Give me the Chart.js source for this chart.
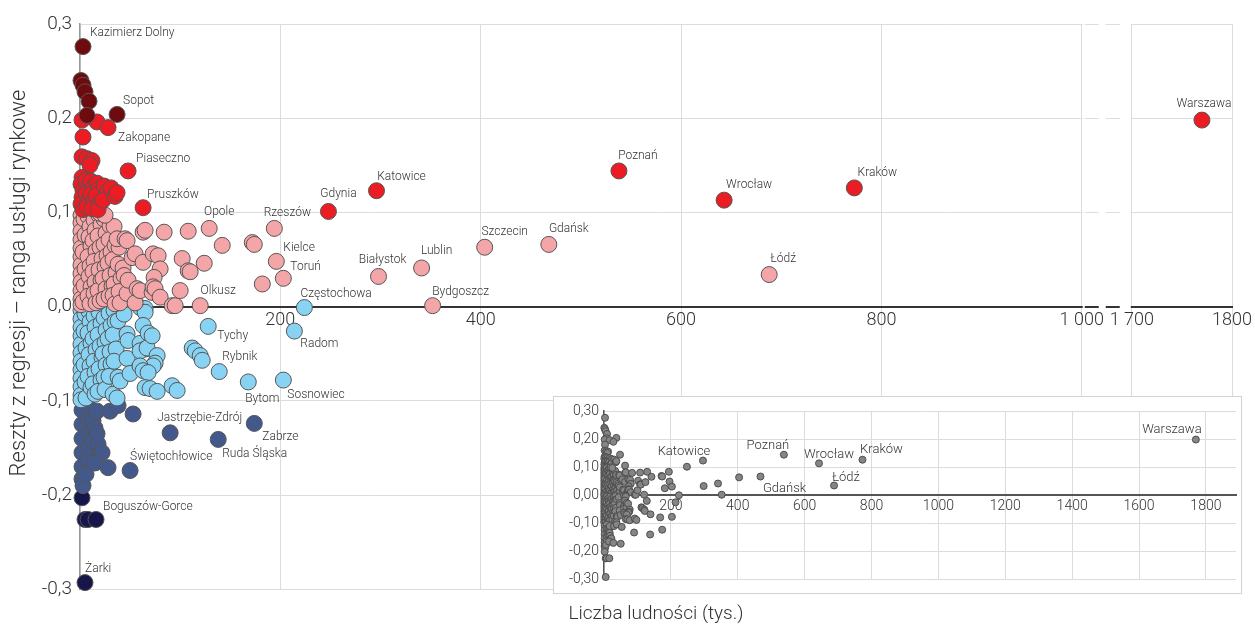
<!DOCTYPE html>
<html>
<head>
<meta charset="utf-8">
<script src="https://cdn.jsdelivr.net/npm/chart.js@4.4.0/dist/chart.umd.min.js"></script>
<style>
  html, body { margin: 0; padding: 0; background: #fff; }
  #wrap { position: relative; width: 1255px; height: 627px; }
  #main { position: absolute; left: 0; top: 0; }
  #insetBox { position: absolute; left: 553px; top: 396px; width: 687px; height: 196px;
              border: 1px solid #d2d2d2; background: #fff; }
  #inset { display: block; }
</style>
</head>
<body>
<div id="wrap">
  <canvas id="main" width="1255" height="627"></canvas>
  <div id="insetBox"><canvas id="inset" width="687" height="196"></canvas></div>
</div>
<script>
// ----------------------------------------------------
// DATA (x = population in thousands, y = regression residual)
// ----------------------------------------------------
const darkRedPts = [[3,0.276],[1,0.240],[3,0.235],[5,0.228],[9,0.218],[7,0.203],[37,0.204]];

const redPts = [
  [2,0.198],[17,0.196],[28,0.190],[3,0.180],[2,0.159],[7,0.157],[12,0.155],[10,0.150],[48,0.144],
  [2,0.137],[1,0.130],[3,0.123],[2,0.116],[1,0.109],[3,0.103],
  [6,0.134],[8,0.127],[6,0.120],[9,0.113],[7,0.106],
  [11,0.133],[13,0.126],[11,0.119],[14,0.112],[12,0.104],
  [17,0.131],[19,0.125],[16,0.118],[20,0.110],[18,0.103],
  [24,0.128],[27,0.121],[23,0.113],[31,0.126],[35,0.117],[37,0.121],[63,0.105],
  [248,0.101],[296,0.123],[538,0.144],[643,0.113],[773,0.126],[1770,0.198]
];

const pinkPts = [
  [1,0.097],[1,0.089],[1,0.080],[1,0.071],[1,0.062],[1,0.053],[1,0.044],[1,0.035],[1,0.026],[1,0.017],[1,0.008],[1,0.002],
  [4,0.093],[5,0.076],[3,0.058],[5,0.040],[4,0.022],[3,0.005],
  [8,0.096],[10,0.085],[9,0.074],[11,0.064],[8,0.053],[10,0.043],[9,0.032],[11,0.021],[8,0.011],[10,0.003],
  [14,0.092],[15,0.081],[13,0.070],[16,0.059],[14,0.048],[13,0.037],[15,0.026],[14,0.014],[16,0.004],
  [19,0.097],[21,0.087],[18,0.075],[20,0.063],[22,0.051],[19,0.039],[21,0.028],[18,0.017],[20,0.006],
  [24,0.093],[26,0.078],[24,0.066],[27,0.054],[25,0.042],[23,0.030],[26,0.019],[24,0.008],
  [30,0.086],[29,0.071],[31,0.058],[28,0.046],[30,0.033],[32,0.022],[29,0.011],
  [34,0.085],[35,0.065],[33,0.050],[36,0.036],[34,0.024],[33,0.012],[35,0.003],
  [39,0.063],[38,0.045],[41,0.030],[39,0.016],[40,0.004],
  [20,0.099],[25,0.097],[37,0.072],[45,0.072],[43,0.041],[44,0.033],[47,0.070],[47,0.014],[52,0.052],
  [55,0.056],[48,0.028],[55,0.004],[57,0.019],[60,0.017],[63,0.079],[63,0.047],[65,0.081],[72,0.015],
  [73,0.056],[78,0.054],[80,0.040],[74,0.031],[73,0.021],[75,0.019],[80,0.010],[84,0.079],[92,0.001],
  [95,0.001],[100,0.017],[102,0.051],[108,0.080],[108,0.038],[110,0.037],[120,0.001],[124,0.046],
  [129,0.083],[142,0.065],[172,0.068],[174,0.066],[182,0.024],[194,0.083],[196,0.048],[203,0.030],
  [298,0.032],[341,0.041],[352,0.001],[404,0.063],[468,0.066],[688,0.034]
];

const bluePts = [
  [1,-0.004],[1,-0.013],[1,-0.022],[1,-0.031],[1,-0.040],[1,-0.049],[1,-0.058],[1,-0.067],[1,-0.076],[1,-0.085],[1,-0.094],[1,-0.099],
  [5,-0.008],[4,-0.026],[6,-0.044],[4,-0.062],[5,-0.080],[6,-0.097],
  [9,-0.005],[10,-0.016],[8,-0.028],[11,-0.039],[9,-0.051],[10,-0.063],[8,-0.074],[11,-0.086],
  [14,-0.010],[15,-0.022],[13,-0.034],[16,-0.046],[14,-0.058],[15,-0.070],[13,-0.082],[15,-0.093],
  [19,-0.006],[21,-0.018],[18,-0.030],[20,-0.042],[22,-0.054],[19,-0.066],[21,-0.078],[18,-0.090],
  [24,-0.012],[26,-0.025],[25,-0.038],[23,-0.050],[26,-0.062],[24,-0.075],[25,-0.088],
  [29,-0.007],[31,-0.020],[28,-0.034],[30,-0.048],[31,-0.061],[29,-0.074],
  [34,-0.004],[35,-0.016],[33,-0.030],[36,-0.045],[34,-0.058],[33,-0.093],
  [38,-0.015],[38,-0.075],[40,-0.079],[37,-0.097],[44,-0.008],[47,-0.029],[48,-0.036],[47,-0.055],
  [50,-0.071],[60,-0.001],[65,-0.002],[65,-0.006],[60,-0.039],[65,-0.045],[60,-0.047],[67,-0.044],
  [63,-0.020],[68,-0.028],[72,-0.031],[77,-0.052],[75,-0.060],[73,-0.063],[60,-0.063],[63,-0.068],
  [68,-0.070],[65,-0.086],[70,-0.087],[77,-0.090],[92,-0.084],[97,-0.089],[112,-0.044],[115,-0.047],
  [120,-0.052],[122,-0.057],[128,-0.021],[139,-0.069],[168,-0.080],[203,-0.078],[214,-0.026],[224,-0.001]
];

const slatePts = [
  [2,-0.110],[2,-0.125],[2,-0.140],[2,-0.155],[2,-0.170],[2,-0.183],[3,-0.190],
  [8,-0.106],[9,-0.120],[10,-0.135],[9,-0.150],[8,-0.165],[6,-0.178],
  [13,-0.121],[15,-0.129],[13,-0.143],[17,-0.111],[17,-0.135],[18,-0.146],[20,-0.156],[22,-0.155],
  [15,-0.166],[28,-0.171],[30,-0.111],[38,-0.105],[53,-0.114],[50,-0.174],[90,-0.134],[138,-0.141],[174,-0.124]
];

const navyPts = [[2,-0.203],[5,-0.226],[8,-0.226],[16,-0.226],[5,-0.293]];

// labelled towns: name, population, residual
const cities = [
  ['Kazimierz Dolny',3,0.276],['Sopot',37,0.204],['Zakopane',28,0.190],['Piaseczno',48,0.144],
  ['Pruszków',63,0.105],['Opole',129,0.083],['Rzeszów',194,0.083],['Gdynia',248,0.101],
  ['Katowice',296,0.123],['Kielce',196,0.048],['Toruń',203,0.030],['Białystok',298,0.032],
  ['Lublin',341,0.041],['Szczecin',404,0.063],['Gdańsk',468,0.066],['Poznań',538,0.144],
  ['Wrocław',643,0.113],['Kraków',773,0.126],['Warszawa',1770,0.198],['Łódź',688,0.034],
  ['Bydgoszcz',352,0.001],['Częstochowa',224,-0.001],['Radom',214,-0.026],['Olkusz',120,0.001],
  ['Tychy',128,-0.021],['Rybnik',139,-0.069],['Bytom',168,-0.080],['Sosnowiec',203,-0.078],
  ['Jastrzębie-Zdrój',90,-0.134],['Zabrze',174,-0.124],['Ruda Śląska',138,-0.141],
  ['Świętochłowice',50,-0.174],['Boguszów-Gorce',16,-0.226],['Żarki',5,-0.293]
];
const insetCities = ['Katowice','Poznań','Wrocław','Kraków','Warszawa','Gdańsk','Łódź'];

const xTickValues = [0, 200, 400, 600, 800, 1000, 1700, 1800];
const xTickLabels = ['', '200', '400', '600', '800', '1 000', '1 700', '1800'];

// ----------------------------------------------------
// STYLE / PLACEMENT
// ----------------------------------------------------
const FONT = "Roboto, 'DejaVu Sans Condensed', sans-serif";
const TXT = '#333';

// label offsets from the point: dx, dy, align
const mainLabelPos = {
  'Kazimierz Dolny': [7,-14,'left'], 'Sopot': [6,-13,'left'], 'Zakopane': [10,10,'left'],
  'Piaseczno': [8,-12,'left'], 'Pruszków': [4,-13,'left'], 'Opole': [10,-16,'center'],
  'Rzeszów': [13,-15,'center'], 'Gdynia': [10,-17,'center'], 'Katowice': [25,-14,'center'],
  'Kielce': [7,-13,'left'], 'Toruń': [7,-11,'left'], 'Białystok': [4,-16,'center'],
  'Lublin': [15,-17,'center'], 'Szczecin': [20,-15,'center'], 'Gdańsk': [20,-15,'center'],
  'Poznań': [19,-15,'center'], 'Wrocław': [25,-15,'center'], 'Kraków': [23,-15,'center'],
  'Warszawa': [2,-16,'center'], 'Łódź': [14,-16,'center'], 'Bydgoszcz': [28,-14,'center'],
  'Częstochowa': [-4,-14,'left'], 'Radom': [6,13,'left'], 'Olkusz': [18,-15,'center'],
  'Tychy': [9,10,'left'], 'Rybnik': [3,-15,'left'], 'Bytom': [14,17,'center'],
  'Sosnowiec': [4,15,'left'], 'Jastrzębie-Zdrój': [-13,-15,'left'], 'Zabrze': [8,14,'left'],
  'Ruda Śląska': [4,15,'left'], 'Świętochłowice': [0,-14,'left'], 'Boguszów-Gorce': [7,-12,'left'],
  'Żarki': [0,-14,'left']
};
const insetLabelPos = {
  'Katowice': [-19,-9], 'Poznań': [-16,-9], 'Wrocław': [10,-9], 'Kraków': [19,-10],
  'Warszawa': [-24,-10], 'Gdańsk': [24,12], 'Łódź': [12,-8]
};

// broken x axis: 1000..1700 is squeezed out
const tx = x => (x <= 1000 ? x : x - 650);
const isZero = v => Math.abs(v) < 1e-9;
const fmt = (v, d) => (isZero(v) ? 0 : v).toFixed(d).replace('.', ',');

const groups = [
  { pts: darkRedPts, color: '#6d0b0e' },
  { pts: redPts, color: '#ec1c24' },
  { pts: pinkPts, color: '#f4a5a7' },
  { pts: bluePts, color: '#88d3f3' },
  { pts: slatePts, color: '#44598b' },
  { pts: navyPts, color: '#16164a' }
];

// ----------------------------------------------------
// PLUGINS
// ----------------------------------------------------
const breakPlugin = {
  id: 'axisBreak',
  beforeDatasetsDraw(chart) {
    const { ctx, scales: { x, y } } = chart;
    const x1 = x.getPixelForValue(tx(1000)) + 1;
    const x2 = x.getPixelForValue(tx(1700)) - 1;
    ctx.save();
    y.ticks.forEach(t => {
      const py = Math.round(y.getPixelForValue(t.value));
      const zero = isZero(t.value);
      ctx.setLineDash([]);
      ctx.fillStyle = '#fff';
      ctx.fillRect(x1, py - 2, x2 - x1, 4);
      ctx.setLineDash([14, 7]);
      ctx.strokeStyle = zero ? '#333' : '#dcdcdc';
      ctx.lineWidth = zero ? 2 : 1;
      ctx.beginPath();
      ctx.moveTo(x1 + 2, py + (zero ? 0 : 0.5));
      ctx.lineTo(x2 - 6, py + (zero ? 0 : 0.5));
      ctx.stroke();
    });
    ctx.restore();
  }
};

const labelPlugin = {
  id: 'cityLabels',
  afterDatasetsDraw(chart) {
    const { ctx, scales: { x, y } } = chart;
    ctx.save();
    ctx.font = '300 12px ' + FONT;
    ctx.fillStyle = TXT;
    ctx.textBaseline = 'middle';
    cities.forEach(([name, cx, cy]) => {
      const p = mainLabelPos[name];
      if (!p) return;
      ctx.textAlign = p[2];
      ctx.fillText(name, x.getPixelForValue(tx(cx)) + p[0], y.getPixelForValue(cy) + p[1]);
    });
    ctx.restore();
  }
};

const yTitlePlugin = {
  id: 'yTitle',
  afterDraw(chart) {
    const { ctx } = chart;
    ctx.save();
    ctx.translate(19, 283);
    ctx.rotate(-Math.PI / 2);
    ctx.font = '300 22px ' + FONT;
    ctx.fillStyle = TXT;
    ctx.textAlign = 'center';
    ctx.textBaseline = 'middle';
    ctx.fillText('Reszty z regresji – ranga usługi rynkowe', 0, 0);
    ctx.restore();
  }
};

const insetLabelPlugin = {
  id: 'insetLabels',
  afterDatasetsDraw(chart) {
    const { ctx, scales: { x, y } } = chart;
    ctx.save();
    ctx.font = '300 13px ' + FONT;
    ctx.fillStyle = TXT;
    ctx.textAlign = 'center';
    ctx.textBaseline = 'middle';
    cities.filter(c => insetCities.includes(c[0])).forEach(([name, cx, cy]) => {
      const p = insetLabelPos[name];
      ctx.fillText(name, x.getPixelForValue(cx) + p[0], y.getPixelForValue(cy) + p[1]);
    });
    ctx.restore();
  }
};

// ----------------------------------------------------
// MAIN CHART
// ----------------------------------------------------
new Chart(document.getElementById('main'), {
  type: 'scatter',
  data: {
    datasets: groups.map(g => ({
      data: g.pts.map(([x, y]) => ({ x: tx(x), y })),
      backgroundColor: g.color,
      borderColor: '#555',
      borderWidth: 1,
      pointRadius: 8,
      clip: false
    }))
  },
  options: {
    responsive: false,
    animation: false,
    layout: { padding: { left: 0, right: 23, top: 24, bottom: 0 } },
    plugins: {
      legend: { display: false },
      tooltip: { enabled: false },
      title: {
        display: true, position: 'bottom', fullSize: false,
        text: 'Liczba ludności (tys.)', color: TXT,
        font: { family: FONT, size: 19, weight: 300 },
        padding: { top: 14, bottom: 1 }
      }
    },
    scales: {
      x: {
        type: 'linear', position: { y: 0 }, min: 0, max: 1150,
        afterBuildTicks: s => { s.ticks = xTickValues.map(v => ({ value: tx(v) })); },
        ticks: {
          callback: (v, i) => xTickLabels[i],
          font: { family: FONT, size: 18, weight: 300 }, color: TXT, padding: 3,
          maxRotation: 0, autoSkip: false
        },
        grid: { color: '#dcdcdc', drawTicks: false },
        border: { color: '#333', width: 2 }
      },
      y: {
        min: -0.3, max: 0.3,
        ticks: {
          stepSize: 0.1, callback: v => fmt(v, 1),
          font: { family: FONT, size: 19, weight: 300 }, color: TXT, padding: 8
        },
        grid: {
          drawTicks: false,
          color: c => (isZero(c.tick.value) ? '#333' : '#dcdcdc'),
          lineWidth: c => (isZero(c.tick.value) ? 2 : 1)
        },
        border: { color: '#999', width: 1.5 },
        afterFit: s => { s.width = 80; }
      }
    }
  },
  plugins: [breakPlugin, labelPlugin, yTitlePlugin]
});

// ----------------------------------------------------
// INSET (whole range, no break)
// ----------------------------------------------------
const allPts = groups.flatMap(g => g.pts);

new Chart(document.getElementById('inset'), {
  type: 'scatter',
  data: {
    datasets: [{
      data: allPts.map(([x, y]) => ({ x, y })),
      backgroundColor: '#858585',
      borderColor: '#4d4d4d',
      borderWidth: 1,
      pointRadius: 3.5,
      clip: false
    }]
  },
  options: {
    responsive: false,
    animation: false,
    layout: { padding: { left: 0, right: 0, top: 14, bottom: 14 } },
    plugins: { legend: { display: false }, tooltip: { enabled: false } },
    scales: {
      x: {
        type: 'linear', position: { y: 0 }, min: 0, max: 1890,
        ticks: {
          stepSize: 200, includeBounds: false,
          callback: v => (v === 0 ? '' : String(v)),
          font: { family: FONT, size: 14, weight: 300 }, color: TXT, padding: 3,
          maxRotation: 0, autoSkip: false
        },
        grid: { color: '#dcdcdc', drawTicks: false },
        border: { color: '#555', width: 2 }
      },
      y: {
        min: -0.3, max: 0.3,
        ticks: {
          stepSize: 0.1, callback: v => fmt(v, 2),
          font: { family: FONT, size: 14, weight: 300 }, color: TXT, padding: 5
        },
        grid: {
          drawTicks: false,
          color: c => (isZero(c.tick.value) ? '#555' : '#dcdcdc'),
          lineWidth: c => (isZero(c.tick.value) ? 2 : 1)
        },
        border: { color: '#555', width: 1.5 },
        afterFit: s => { s.width = 50; }
      }
    }
  },
  plugins: [insetLabelPlugin]
});
</script>
</body>
</html>
